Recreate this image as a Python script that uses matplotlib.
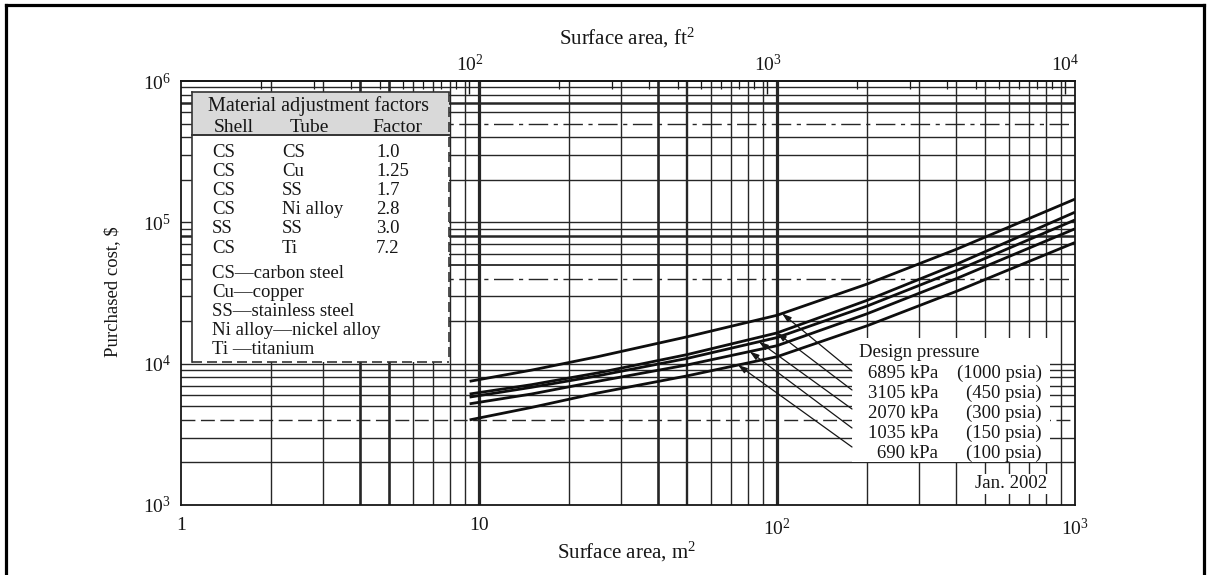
import numpy as np
import matplotlib
matplotlib.use("Agg")
import matplotlib.pyplot as plt
from matplotlib.patches import Rectangle
from matplotlib.lines import Line2D
from matplotlib.ticker import LogLocator, NullLocator, NullFormatter

plt.rcParams["font.family"] = ["Liberation Serif", "DejaVu Serif"]
plt.rcParams["mathtext.fontset"] = "custom"
plt.rcParams["mathtext.rm"] = "Liberation Serif"
plt.rcParams["mathtext.it"] = "Liberation Serif:italic"
plt.rcParams["mathtext.bf"] = "Liberation Serif:bold"

# ---- data: purchased cost of fixed-tube-sheet exchangers (Jan. 2002) ----
area_m2 = [9.3, 15, 25, 50, 100, 200, 400, 1000]
cost_6895kpa = [7500, 9000, 11200, 15500, 22000, 36500, 64500, 146000]
cost_3105kpa = [6100, 7100, 8600, 11600, 16500, 28000, 50500, 118000]
cost_2070kpa = [5800, 6800, 8200, 10900, 15300, 25500, 45500, 104000]
cost_1035kpa = [5200, 6100, 7500, 9800, 13400, 22500, 40000, 90000]
cost_690kpa = [4000, 4900, 6200, 8200, 11200, 18500, 32500, 72000]
curves = [cost_6895kpa, cost_3105kpa, cost_2070kpa, cost_1035kpa, cost_690kpa]

pressure_kpa = ["6895 kPa", "3105 kPa", "2070 kPa", "1035 kPa", "690 kPa"]
pressure_psia = ["(1000 psia)", "(450 psia)", "(300 psia)", "(150 psia)", "(100 psia)"]
arrow_area = [104, 100, 87, 81, 74]

shell = ["CS", "CS", "CS", "CS", "SS", "CS"]
tube = ["CS", "Cu", "SS", "Ni alloy", "SS", "Ti"]
factor = ["1.0", "1.25", "1.7", "2.8", "3.0", "7.2"]
abbrev = ["CS\u2014carbon steel", "Cu\u2014copper", "SS\u2014stainless steel",
          "Ni alloy\u2014nickel alloy", "Ti \u2014titanium"]

x_ticks = [1, 10, 100, 1000]
x_ticklabels = ["1", "10", "$10^2$", "$10^3$"]
y_ticks = [1e3, 1e4, 1e5, 1e6]
y_ticklabels = ["$10^3$", "$10^4$", "$10^5$", "$10^6$"]
ft2_ticks = [1e2, 1e3, 1e4]
ft2_ticklabels = ["$10^2$", "$10^3$", "$10^4$"]
FT2_PER_M2 = 10.7639

# ---- figure layout (pixel frame of the plot area) ----
W, H = 1209, 575
L, R, T, B = 181, 1075, 81, 505
INK = "#161616"
GRID = "#262626"

fig = plt.figure(figsize=(W / 100, H / 100), dpi=100)
ax = fig.add_axes([L / W, 1 - B / H, (R - L) / W, (B - T) / H])
ax.set_xscale("log")
ax.set_yscale("log")
ax.set_xlim(1, 1000)
ax.set_ylim(1e3, 1e6)


def to_ax(px, py):
    return ((px - L) / (R - L), (B - py) / (B - T))


# ---- log-log graph-paper grid ----
heavy_x = {4: 1.9, 5: 1.9, 10: 2.3, 40: 1.9, 50: 1.7, 100: 2.3}
for d in (1, 10, 100):
    for k in range(1, 10):
        v = k * d
        if v <= 1:
            continue
        ax.axvline(v, color=GRID, lw=heavy_x.get(v, 1.0), zorder=1)

heavy_y = {7e5: 1.8, 8e4: 1.8, 5e4: 1.3}
dashdot_y = {5e5, 4e4}
dashed_y = {4e3}
for d in (1e3, 1e4, 1e5):
    for k in range(1, 10):
        v = k * d
        if v <= 1e3:
            continue
        if v in dashdot_y:
            ls = (0, (14, 4, 3, 4))
        elif v in dashed_y:
            ls = (0, (10, 4))
        else:
            ls = "-"
        ax.axhline(v, color=GRID, lw=heavy_y.get(v, 1.0), ls=ls, zorder=1)

# ---- cost curves ----
for c in curves:
    ax.plot(area_m2, c, color="#0e0e0e", lw=2.0, zorder=3,
            solid_capstyle="butt", solid_joinstyle="round")

# ---- axes styling ----
for s in ax.spines.values():
    s.set_color(INK)
    s.set_linewidth(1.3)
ax.set_xticks(x_ticks, x_ticklabels)
ax.set_yticks(y_ticks, y_ticklabels)
ax.xaxis.set_minor_locator(NullLocator())
ax.yaxis.set_minor_locator(NullLocator())
ax.tick_params(axis="both", which="both", length=0, labelsize=14, colors=INK)
ax.tick_params(axis="x", pad=9)
ax.tick_params(axis="y", pad=7)

secax = ax.secondary_xaxis("top", functions=(lambda x: x * FT2_PER_M2,
                                             lambda x: x / FT2_PER_M2))
secax.set_xticks(ft2_ticks, ft2_ticklabels)
secax.xaxis.set_minor_locator(LogLocator(base=10, subs=np.arange(2, 10)))
secax.xaxis.set_minor_formatter(NullFormatter())
secax.tick_params(axis="x", which="major", direction="in", length=9, width=1.0,
                  pad=4, labelsize=14, colors=INK)
secax.tick_params(axis="x", which="minor", direction="in", length=6, width=0.9,
                  colors=INK)
secax.spines["top"].set_color(INK)
secax.spines["top"].set_linewidth(1.3)

# ---- axis titles ----
fig.text(627 / W, 1 - 38 / H, "Surface area, ft$^2$", ha="center", va="center",
         fontsize=15, color=INK)
fig.text(627 / W, 1 - 552 / H, "Surface area, m$^2$", ha="center", va="center",
         fontsize=15, color=INK)
fig.text(113 / W, 1 - 292 / H, "Purchased cost, $", rotation=90, ha="center",
         va="center", fontsize=13.5, color=INK)

# ---- material adjustment factor table ----
bx0, by0, bx1, by1 = 192, 92, 449, 362
x0, y0 = to_ax(bx0, by1)
x1, y1 = to_ax(bx1, by0)
ax.add_patch(Rectangle((x0, y0), x1 - x0, y1 - y0, transform=ax.transAxes,
                       facecolor="white", edgecolor="none", zorder=4, clip_on=False))
hx0, hy0 = to_ax(bx0, 135)
ax.add_patch(Rectangle((hx0, hy0), x1 - hx0, y1 - hy0, transform=ax.transAxes,
                       facecolor="#d9d9d9", edgecolor="none", zorder=4, clip_on=False))


def seg(p, q, **kw):
    a, b = to_ax(*p), to_ax(*q)
    ax.add_line(Line2D([a[0], b[0]], [a[1], b[1]], transform=ax.transAxes,
                       zorder=5, clip_on=False, **kw))


seg((bx0, by0), (bx0, by1), color="#333333", lw=1.2)
seg((bx0, by0), (bx1, by0), color="#333333", lw=1.2)
seg((bx0, 135), (bx1, 135), color="#333333", lw=1.4)
seg((bx1, by0), (bx1, by1), color="#333333", lw=1.2, ls=(0, (6, 3)))
seg((bx0, by1), (bx1, by1), color="#333333", lw=1.2, ls=(0, (6, 3)))


def label(px, py, s, ha="left", size=13.5):
    ax.text(*to_ax(px, py), s, transform=ax.transAxes, ha=ha, va="center",
            fontsize=size, color=INK, zorder=6)


label(319, 106, "Material adjustment factors", ha="center", size=14.5)
label(234, 128, "Shell", ha="center", size=14)
label(309, 128, "Tube", ha="center", size=14)
label(397, 128, "Factor", ha="center", size=14)
row_y = [152, 171, 190, 209, 228, 248]
for yy, s1, s2, f in zip(row_y, shell, tube, factor):
    label(212, yy, s1)
    label(282, yy, s2)
    label(376, yy, f)
for yy, s in zip([273, 292, 311, 330, 349], abbrev):
    label(212, yy, s)

# ---- design pressure key ----
kx0, ky0 = to_ax(852, 462)
kx1, ky1 = to_ax(1050, 338)
ax.add_patch(Rectangle((kx0, ky0), kx1 - kx0, ky1 - ky0, transform=ax.transAxes,
                       facecolor="white", edgecolor="none", zorder=4))
label(859, 352, "Design pressure", size=13.5)
key_y = [373, 393, 413, 433, 453]
tail_y = [371, 390, 409, 428, 447]
for yy, kp, ps in zip(key_y, pressure_kpa, pressure_psia):
    label(938, yy, kp, ha="right", size=13.5)
    label(1042, yy, ps, ha="right", size=13.5)

for a, c, ty in zip(arrow_area, curves, tail_y):
    yv = np.exp(np.interp(np.log(a), np.log(area_m2), np.log(c)))
    ax.annotate("", xy=(a, yv), xycoords="data", xytext=to_ax(852, ty),
                textcoords="axes fraction", zorder=6,
                arrowprops=dict(arrowstyle="-|>,head_length=0.55,head_width=0.18",
                                lw=0.9, color=INK, shrinkA=0, shrinkB=0))

# ---- date stamp ----
jx0, jy0 = to_ax(962, 494)
jx1, jy1 = to_ax(1060, 474)
ax.add_patch(Rectangle((jx0, jy0), jx1 - jx0, jy1 - jy0, transform=ax.transAxes,
                       facecolor="white", edgecolor="none", zorder=4))
label(1011, 484, "Jan. 2002", size=13.5, ha="center")

# ---- page border ----
for (xa, ya), (xb, yb) in [((6, 575), (6, 5)), ((6, 5), (1204, 5)), ((1204, 5), (1204, 575))]:
    fig.add_artist(Line2D([xa / W, xb / W], [1 - ya / H, 1 - yb / H],
                          transform=fig.transFigure, color="black", lw=2.3))

fig.savefig("out.png", dpi=100, facecolor="white")
